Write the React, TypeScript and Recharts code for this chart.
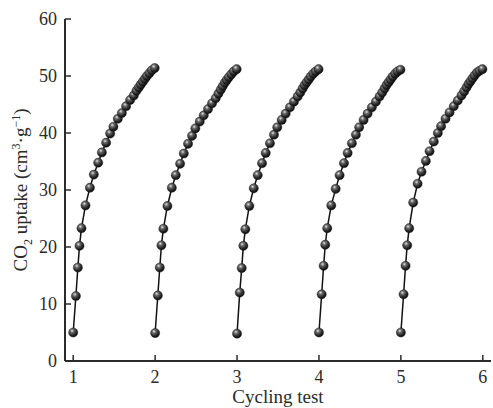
import React from "react";
import { Line, LineChart, XAxis, YAxis } from "recharts";

// x position of each reading inside one cycle (fraction of the cycle)
const cycleOffsets = [
  0, 0.033, 0.057, 0.077, 0.101, 0.15, 0.204, 0.252, 0.305, 0.35, 0.402, 0.451, 0.491, 0.545,
  0.594, 0.646, 0.695, 0.74, 0.772, 0.801, 0.825, 0.85, 0.875, 0.9, 0.93, 0.96, 0.995,
];

const cycleStarts = [1, 2, 3, 4, 5];

const cycle1 = [
  5.0, 11.4, 16.4, 20.2, 23.3, 27.3, 30.4, 32.7, 34.8, 36.6, 38.3, 39.9, 41.1, 42.5, 43.5, 44.7,
  45.8, 46.6, 47.4, 48.0, 48.5, 49.0, 49.5, 50.0, 50.5, 51.0, 51.4,
];
const cycle2 = [
  4.9, 11.5, 16.4, 20.3, 23.2, 27.2, 30.4, 32.6, 34.6, 36.4, 38.1, 39.5, 40.8, 42.0, 43.1, 44.2,
  45.2, 46.1, 46.9, 47.6, 48.2, 48.8, 49.3, 49.8, 50.3, 50.8, 51.2,
];
const cycle3 = [
  4.8, 12.0, 16.3, 20.2, 23.1, 27.2, 30.3, 32.6, 34.7, 36.5, 38.2, 39.7, 41.0, 42.3, 43.4, 44.5,
  45.5, 46.4, 47.1, 47.8, 48.4, 48.9, 49.4, 49.9, 50.4, 50.8, 51.2,
];
const cycle4 = [
  5.0, 11.7, 16.7, 20.4, 23.3, 27.3, 30.2, 32.6, 34.7, 36.5, 38.2, 39.7, 41.0, 42.3, 43.4, 44.5,
  45.5, 46.4, 47.1, 47.8, 48.4, 48.9, 49.4, 49.9, 50.4, 50.8, 51.1,
];
const cycle5 = [
  5.0, 11.7, 16.7, 20.3, 23.3, 27.8, 31.1, 33.2, 35.1, 36.8, 38.5, 40.0, 41.2, 42.5, 43.6, 44.7,
  45.7, 46.6, 47.3, 48.0, 48.6, 49.1, 49.6, 50.1, 50.6, 50.9, 51.2,
];

const cycles = [cycle1, cycle2, cycle3, cycle4, cycle5];

const xTicks = [1, 2, 3, 4, 5, 6];
const yTicks = [0, 10, 20, 30, 40, 50, 60];

const series = cycles.map((values, i) =>
  values.map((y, j) => ({ x: cycleStarts[i] + cycleOffsets[j], y }))
);

const ink = "#2b2b2b";
const font = "'Liberation Serif', 'DejaVu Serif', serif";

const XTick = ({ x, y, payload }: any) => (
  <g>
    <line x1={x} x2={x} y1={y} y2={y - 6} stroke={ink} strokeWidth={1.5} />
    <text x={x} y={y + 9} dy="0.71em" textAnchor="middle" fontSize={18} fontFamily={font} fill={ink}>
      {payload.value}
    </text>
  </g>
);

const YTick = ({ x, y, payload }: any) => (
  <g>
    <line x1={x} x2={x + 6} y1={y} y2={y} stroke={ink} strokeWidth={1.5} />
    <text x={x - 8} y={y} dy="0.35em" textAnchor="end" fontSize={18} fontFamily={font} fill={ink}>
      {payload.value}
    </text>
  </g>
);

const Ball = ({ cx, cy, index }: any) =>
  cx == null || cy == null ? null : (
    <circle key={index} cx={cx} cy={cy} r={4.6} fill="url(#ball)" stroke="#111" strokeWidth={0.4} />
  );

export default function App() {
  return (
    <div style={{ position: "absolute", left: 0, top: 0, background: "#fff" }}>
      <LineChart width={493} height={408} data={series[0]} margin={{ top: 19, right: 2, bottom: 0, left: 0 }}>
        <defs>
          <radialGradient id="ball" cx="38%" cy="32%" r="65%">
            <stop offset="0%" stopColor="#e6e6e6" />
            <stop offset="30%" stopColor="#6a6a6a" />
            <stop offset="75%" stopColor="#262626" />
            <stop offset="100%" stopColor="#111" />
          </radialGradient>
        </defs>
        <XAxis
          dataKey="x"
          type="number"
          domain={[0.9, 6.1]}
          ticks={xTicks}
          allowDataOverflow
          height={47}
          tickSize={0}
          tickMargin={0}
          tickLine={false}
          tick={<XTick />}
          axisLine={{ stroke: ink, strokeWidth: 2 }}
          label={{
            content: (props: any) => {
              const vb = props.viewBox;
              return (
                <text x={vb.x + vb.width / 2} y={396} dy="0.35em" textAnchor="middle" fontSize={19} fontFamily={font} fill={ink}>
                  Cycling test
                </text>
              );
            },
          }}
        />
        <XAxis
          xAxisId="top"
          orientation="top"
          type="number"
          domain={[0.9, 6.1]}
          height={0}
          tick={false}
          tickLine={false}
          axisLine={{ stroke: ink, strokeWidth: 2 }}
        />
        <YAxis
          type="number"
          domain={[0, 60]}
          ticks={yTicks}
          width={65}
          tickSize={0}
          tickMargin={0}
          tickLine={false}
          tick={<YTick />}
          axisLine={{ stroke: ink, strokeWidth: 2 }}
          label={{
            content: (props: any) => {
              const vb = props.viewBox;
              const cy = vb.y + vb.height / 2;
              return (
                <text
                  x={20}
                  y={cy}
                  dy="0.35em"
                  textAnchor="middle"
                  fontSize={19}
                  fontFamily={font}
                  fill={ink}
                  transform={`rotate(-90 20 ${cy})`}
                >
                  CO
                  <tspan fontSize={12} dy={5}>2</tspan>
                  <tspan dy={-5}> uptake (cm</tspan>
                  <tspan fontSize={12} dy={-7}>3</tspan>
                  <tspan dy={7}>·g</tspan>
                  <tspan fontSize={12} dy={-7}>−1</tspan>
                  <tspan dy={7}>)</tspan>
                </text>
              );
            },
          }}
        />
        <YAxis
          yAxisId="right"
          orientation="right"
          domain={[0, 60]}
          width={0}
          tick={false}
          tickLine={false}
          axisLine={{ stroke: ink, strokeWidth: 2 }}
        />
        {series.map((data, i) => (
          <Line
            key={i}
            data={data}
            dataKey="y"
            type="linear"
            stroke="#111"
            strokeWidth={1.5}
            dot={<Ball />}
            activeDot={false}
            isAnimationActive={false}
          />
        ))}
      </LineChart>
    </div>
  );
}
